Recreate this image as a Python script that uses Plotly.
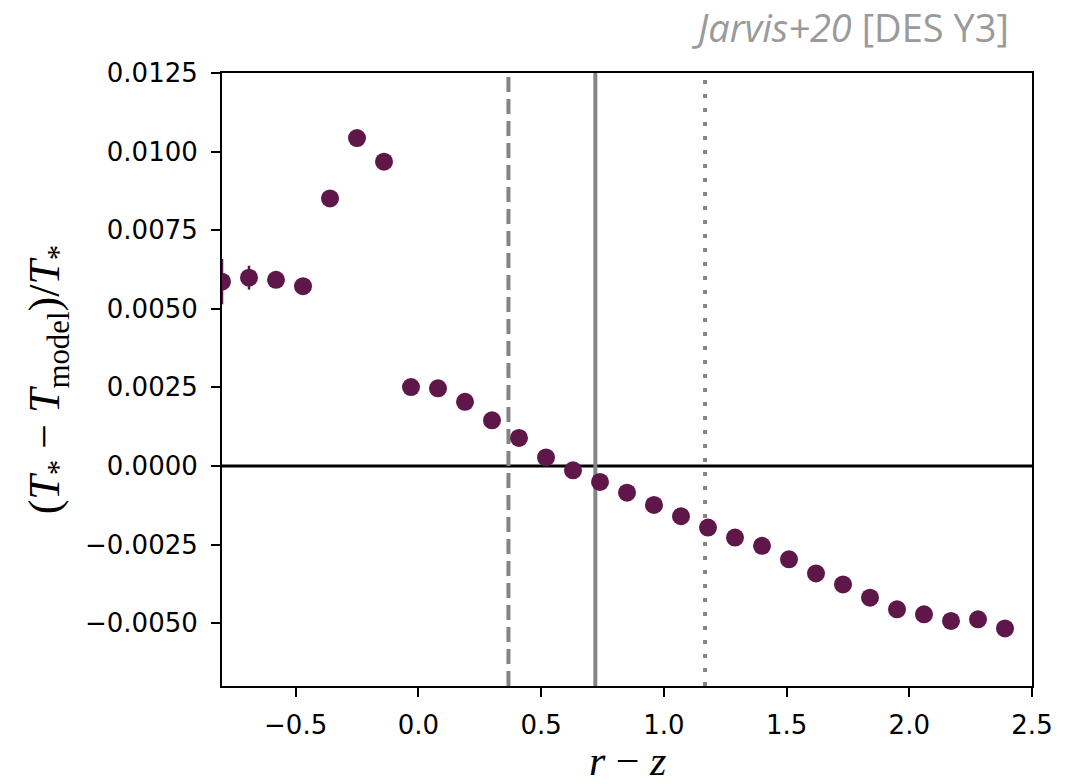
import plotly.graph_objects as go

# Data
color_index = [-0.80, -0.69, -0.58, -0.47, -0.36, -0.25, -0.14, -0.03, 0.08, 0.19,
               0.30, 0.41, 0.52, 0.63, 0.74, 0.85, 0.96, 1.07, 1.18, 1.29,
               1.40, 1.51, 1.62, 1.73, 1.84, 1.95, 2.06, 2.17, 2.28, 2.39]
frac_resid = [0.00586, 0.00599, 0.00592, 0.00572, 0.00851, 0.01043, 0.00968, 0.00251, 0.00247, 0.00204,
              0.00145, 0.00089, 0.00027, -0.00014, -0.00051, -0.00085, -0.00124, -0.00160, -0.00196, -0.00228,
              -0.00254, -0.00297, -0.00342, -0.00377, -0.00419, -0.00456, -0.00472, -0.00493, -0.00488, -0.00517]
frac_err = [0.00072, 0.00038, 0.00015, 0.00012, 0.00010, 0.00010, 0.00010, 0.00008, 0.00008, 0.00008,
            0.00008, 0.00008, 0.00008, 0.00008, 0.00008, 0.00008, 0.00008, 0.00008, 0.00008, 0.00008,
            0.00008, 0.00008, 0.00008, 0.00008, 0.00008, 0.00010, 0.00010, 0.00010, 0.00010, 0.00012]

vline_dashed = 0.367
vline_solid = 0.721
vline_dotted = 1.168

x_range = [-0.8, 2.5]
y_range = [-0.0070, 0.0125]
x_ticks = [-0.5, 0.0, 0.5, 1.0, 1.5, 2.0, 2.5]
x_ticklabels = ["\u22120.5", "0.0", "0.5", "1.0", "1.5", "2.0", "2.5"]
y_ticks = [-0.005, -0.0025, 0.0, 0.0025, 0.005, 0.0075, 0.01, 0.0125]
y_ticklabels = ["\u22120.0050", "\u22120.0025", "0.0000", "0.0025", "0.0050", "0.0075", "0.0100", "0.0125"]

point_color = "#5e1748"
line_gray = "#848484"

fig = go.Figure()

fig.add_trace(go.Scatter(
    x=color_index, y=frac_resid,
    mode="markers",
    marker=dict(size=18, color=point_color, line=dict(width=0)),
    error_y=dict(type="data", array=frac_err, visible=True, color=point_color, thickness=2.5, width=0),
    showlegend=False, cliponaxis=True,
))

fig.add_shape(type="line", xref="paper", yref="y", x0=0, x1=1, y0=0, y1=0,
              line=dict(color="black", width=3), layer="below")
fig.add_shape(type="line", xref="x", yref="paper", x0=vline_dashed, x1=vline_dashed, y0=0, y1=1,
              line=dict(color=line_gray, width=4, dash="15px,7px"), layer="below")
fig.add_shape(type="line", xref="x", yref="paper", x0=vline_solid, x1=vline_solid, y0=0, y1=1,
              line=dict(color=line_gray, width=4), layer="below")
fig.add_shape(type="line", xref="x", yref="paper", x0=vline_dotted, x1=vline_dotted, y0=0, y1=1,
              line=dict(color=line_gray, width=4, dash="4px,10px"), layer="below")

tick_font = dict(family="DejaVu Sans", size=26, color="black")

fig.update_xaxes(
    range=x_range, tickvals=x_ticks, ticktext=x_ticklabels,
    showgrid=False, zeroline=False,
    showline=True, mirror=True, linecolor="black", linewidth=2,
    ticks="outside", ticklen=9, tickwidth=2, tickcolor="black",
    tickfont=tick_font, ticklabelstandoff=6,
)
fig.update_yaxes(
    range=y_range, tickvals=y_ticks, ticktext=y_ticklabels,
    showgrid=False, zeroline=False,
    showline=True, mirror=True, linecolor="black", linewidth=2,
    ticks="outside", ticklen=9, tickwidth=2, tickcolor="black",
    tickfont=tick_font, ticklabelstandoff=8,
)

fig.add_annotation(
    text="<i>r</i> \u2212 <i>z</i>", xref="paper", yref="paper",
    x=0.5, y=-0.122, xanchor="center", yanchor="middle", showarrow=False,
    font=dict(family="Liberation Serif", size=42, color="black"),
)
fig.add_annotation(
    text="(<i>T</i><sub>*</sub> \u2212 <i>T</i><sub>model</sub>)/<i>T</i><sub>*</sub>",
    xref="paper", yref="paper",
    x=-0.215, y=0.5, xanchor="center", yanchor="middle", showarrow=False, textangle=-90,
    font=dict(family="Liberation Serif", size=44, color="black"),
)
fig.add_annotation(
    text="<i>Jarvis+20</i> [DES Y3]", xref="paper", yref="paper",
    x=0.974, y=1.075, xanchor="right", yanchor="middle", showarrow=False,
    font=dict(family="Open Sans", size=38, color="#9a9a9a"),
)

fig.update_layout(
    width=1066, height=784,
    margin=dict(l=222, r=34, t=73, b=98),
    paper_bgcolor="white", plot_bgcolor="white",
)

fig.write_html("out.html")
